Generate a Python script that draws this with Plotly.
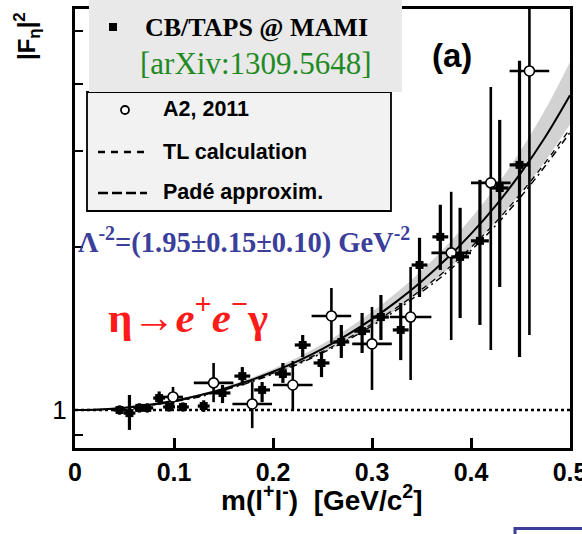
import math
import plotly.graph_objects as go

# ---------------- data ----------------
# CB/TAPS @ MAMI (filled squares)
cb_m = [0.045, 0.055, 0.065, 0.073, 0.085, 0.095, 0.109, 0.130, 0.149, 0.169, 0.189, 0.210,
        0.230, 0.249, 0.269, 0.290, 0.309, 0.329, 0.348, 0.369, 0.389, 0.409, 0.429, 0.449]
cb_v = [1.000, 0.987, 1.009, 1.009, 1.052, 1.013, 1.013, 1.017, 1.075, 1.155, 1.089, 1.165,
        1.318, 1.221, 1.335, 1.398, 1.484, 1.405, 1.851, 2.086, 1.916, 2.051, 2.567, 2.832]
cb_up = [0.020, 0.079, 0.020, 0.020, 0.030, 0.020, 0.020, 0.025, 0.037, 0.045, 0.037, 0.056,
         0.057, 0.058, 0.100, 0.112, 0.146, 0.170, 0.227, 0.305, 0.444, 0.606, 0.861, 1.573]
cb_dn = [0.020, 0.068, 0.020, 0.020, 0.030, 0.020, 0.020, 0.025, 0.045, 0.045, 0.055, 0.043,
         0.066, 0.071, 0.088, 0.124, 0.138, 0.169, 0.235, 0.274, 0.438, 0.616, 0.881, 1.580]
cb_dm = [0.006, 0.006, 0.006, 0.006, 0.006, 0.006, 0.006, 0.006, 0.008, 0.008, 0.008, 0.008,
         0.008, 0.008, 0.008, 0.008, 0.008, 0.008, 0.008, 0.008, 0.009, 0.009, 0.009, 0.010]

# A2, 2011 (open circles)
a2_m = [0.099, 0.140, 0.179, 0.220, 0.259, 0.300, 0.339, 0.380, 0.420, 0.459]
a2_v = [1.057, 1.122, 1.026, 1.112, 1.491, 1.324, 1.484, 1.949, 2.624, 4.220]
a2_up = [0.046, 0.099, 0.100, 0.119, 0.188, 0.225, 0.352, 0.577, 1.319, 2.500]
a2_dn = [0.048, 0.088, 0.100, 0.116, 0.162, 0.235, 0.348, 0.603, 1.334, 2.845]
a2_dm = [0.010, 0.020, 0.020, 0.020, 0.020, 0.020, 0.021, 0.020, 0.020, 0.020]

# curves
curve_m = [0.000, 0.025, 0.050, 0.075, 0.100, 0.125, 0.150, 0.175, 0.200, 0.225, 0.250,
           0.275, 0.300, 0.325, 0.350, 0.375, 0.400, 0.425, 0.450, 0.475, 0.500]
fit_v = [1.0000, 1.0025, 1.0098, 1.0223, 1.0402, 1.0638, 1.0939, 1.1311, 1.1764, 1.2311, 1.2968,
         1.3759, 1.4710, 1.5861, 1.7262, 1.8984, 2.1126, 2.3831, 2.7310, 3.1885, 3.8073]
band_hi = [1.0000, 1.0026, 1.0105, 1.0239, 1.0431, 1.0687, 1.1011, 1.1414, 1.1908, 1.2507, 1.3231,
           1.4107, 1.5170, 1.6469, 1.8067, 2.0057, 2.2572, 2.5807, 3.0060, 3.5810, 4.3858]
band_lo = [1.0000, 1.0023, 1.0092, 1.0208, 1.0374, 1.0594, 1.0872, 1.1215, 1.1632, 1.2133, 1.2732,
           1.3447, 1.4302, 1.5326, 1.6562, 1.8063, 1.9905, 2.2193, 2.5080, 2.8790, 3.3667]
tl_v = [1.000, 1.002, 1.009, 1.020, 1.036, 1.057, 1.088, 1.122, 1.165, 1.214, 1.275,
        1.345, 1.430, 1.530, 1.650, 1.790, 1.970, 2.190, 2.470, 2.820, 3.250]
pade_v = [1.000, 1.002, 1.009, 1.020, 1.037, 1.059, 1.090, 1.125, 1.170, 1.220, 1.282,
          1.354, 1.442, 1.545, 1.668, 1.812, 1.995, 2.220, 2.505, 2.860, 3.300]
unity_m = [0.0, 0.5]
unity_v = [1.0, 1.0]

x_ticks = [0.0, 0.1, 0.2, 0.3, 0.4, 0.5]
x_ticktext = ["0", "0.1", "0.2", "0.3", "0.4", "0.5"]
y_ticks = [1]
y_ticktext = ["1"]
y_minor_ticks = [0.9, 2, 3, 4, 5]

# ---------------- layout helpers ----------------
W, H = 582, 534
PL, PR, PT, PB = 75, 570, 9, 448  # plot area in pixels


def px(x):
    return (x - PL) / (PR - PL)


def py(y):
    return (PB - y) / (PB - PT)


SERIF = "Liberation Serif, Times New Roman, serif"
SANS = "Liberation Sans, Arial, sans-serif"

fig = go.Figure()

# band
fig.add_trace(go.Scatter(x=curve_m, y=band_lo, mode="lines", line=dict(width=0, shape="spline"),
                         showlegend=False, hoverinfo="skip"))
fig.add_trace(go.Scatter(x=curve_m, y=band_hi, mode="lines", line=dict(width=0, shape="spline"),
                         fill="tonexty", fillcolor="#d2d2d2", showlegend=False, hoverinfo="skip"))
# dotted unity line
fig.add_trace(go.Scatter(x=unity_m, y=unity_v, mode="lines",
                         line=dict(color="black", width=2.5, dash="3px,3px"), showlegend=False))
# TL and Pade
fig.add_trace(go.Scatter(x=curve_m, y=tl_v, mode="lines",
                         line=dict(color="black", width=1.5, dash="7px,4px,2px,4px", shape="spline"),
                         showlegend=False))
fig.add_trace(go.Scatter(x=curve_m, y=pade_v, mode="lines",
                         line=dict(color="black", width=1.3, dash="6px,5px", shape="spline"),
                         showlegend=False))
# fit
fig.add_trace(go.Scatter(x=curve_m, y=fit_v, mode="lines",
                         line=dict(color="black", width=2, shape="spline"), showlegend=False))

# A2 2011
fig.add_trace(go.Scatter(
    x=a2_m, y=a2_v, mode="markers",
    marker=dict(symbol="circle", size=10, color="white", line=dict(color="black", width=1.6)),
    error_y=dict(type="data", array=a2_up, arrayminus=a2_dn, symmetric=False,
                 color="black", thickness=2.6, width=0),
    error_x=dict(type="data", array=a2_dm, color="black", thickness=2.6, width=0),
    showlegend=False))
# CB/TAPS
fig.add_trace(go.Scatter(
    x=cb_m, y=cb_v, mode="markers",
    marker=dict(symbol="square", size=8, color="black"),
    error_y=dict(type="data", array=cb_up, arrayminus=cb_dn, symmetric=False,
                 color="black", thickness=3.2, width=0),
    error_x=dict(type="data", array=cb_dm, color="black", thickness=3.2, width=0),
    showlegend=False))

shapes = []
annotations = []

# legend box (lower part)
shapes.append(dict(type="rect", xref="paper", yref="paper", x0=px(87), x1=px(391), y0=py(92), y1=py(211),
                   line=dict(color="black", width=1.8), fillcolor="#f2f2f2", layer="above"))
# grey overlay (top part)
shapes.append(dict(type="rect", xref="paper", yref="paper", x0=px(89), x1=px(402), y0=py(-2), y1=py(92),
                   line=dict(width=0), fillcolor="#e9e9e9", layer="above"))
# legend symbols
shapes.append(dict(type="rect", xref="paper", yref="paper", x0=px(109), x1=px(117), y0=py(31), y1=py(23),
                   line=dict(width=0), fillcolor="black", layer="above"))
shapes.append(dict(type="circle", xref="paper", yref="paper", x0=px(121), x1=px(129), y0=py(114), y1=py(106),
                   line=dict(color="black", width=1.8), fillcolor="white", layer="above"))
shapes.append(dict(type="line", xref="paper", yref="paper", x0=px(98), x1=px(147), y0=py(152), y1=py(152),
                   line=dict(color="black", width=2.5, dash="7px,6px"), layer="above"))
shapes.append(dict(type="line", xref="paper", yref="paper", x0=px(98), x1=px(147), y0=py(193), y1=py(193),
                   line=dict(color="black", width=2.5, dash="10px,4px"), layer="above"))
# blue box fragment at bottom right
shapes.append(dict(type="rect", xref="paper", yref="paper", x0=px(515), x1=px(600), y0=py(528.5), y1=py(560),
                   line=dict(color="#3b3f99", width=3), fillcolor="rgba(0,0,0,0)", layer="above"))


def ann(text, x, y, size, family, color="black", xanchor="left", yanchor="middle", angle=0):
    annotations.append(dict(text=text, x=px(x), y=py(y), xref="paper", yref="paper",
                            xanchor=xanchor, yanchor=yanchor, showarrow=False, textangle=angle,
                            font=dict(size=size, family=family, color=color)))


ann("<b>CB/TAPS @ MAMI</b>", 143, 28, 26, SERIF)
ann("[arXiv:1309.5648]", 138, 64, 31, SERIF, color="#1f8a1f")
ann("<b>A2, 2011</b>", 161, 109, 21.5, SANS)
ann("<b>TL calculation</b>", 161, 152, 21.5, SANS)
ann("<b>Padé approxim.</b>", 161, 192, 21.5, SANS)
ann("<b>(a)</b>", 452, 55, 33, SANS, xanchor="center")
ann("<b>Λ<sup>-2</sup>=(1.95±0.15±0.10) GeV<sup>-2</sup></b>", 76, 240, 28.5, SERIF, color="#3b3f9b")
ann("<b>η→<i>e</i><sup>+</sup><i>e</i><sup>−</sup>γ</b>", 106, 314, 43, SERIF, color="#ff1a1a")
ann("<b>|F<sub>η</sub>|<sup>2</sup></b>", 27, 36, 24, SANS, xanchor="center", angle=-90)
ann("<b>m(l<sup>+</sup>l<sup>-</sup>)\u00a0\u00a0[GeV/c<sup>2</sup>]</b>", 322, 498, 28, SANS, xanchor="center")

fig.update_layout(
    width=W, height=H,
    margin=dict(l=PL, r=W - PR, t=PT, b=H - PB, autoexpand=False),
    paper_bgcolor="white", plot_bgcolor="white",
    shapes=shapes, annotations=annotations,
    showlegend=False,
    xaxis=dict(range=[0, 0.5], tickvals=x_ticks, ticktext=x_ticktext, ticks="inside", ticklen=10,
               tickwidth=2.5, tickcolor="black", showline=True, linewidth=3, linecolor="black",
               mirror=True, showgrid=False, zeroline=False, ticklabeloverflow="allow",
               automargin=False,
               tickfont=dict(size=25, family=SANS, color="black", weight="bold")),
    yaxis=dict(type="log", range=[math.log10(0.851), math.log10(5.49)], tickvals=y_ticks,
               ticktext=y_ticktext, ticks="inside", ticklen=8, tickwidth=2, tickcolor="black",
               showline=True, linewidth=3, linecolor="black", mirror=True, showgrid=False,
               zeroline=False, automargin=False, tickfont=dict(size=26, family=SANS, color="black"),
               minor=dict(tickvals=y_minor_ticks, ticks="inside", ticklen=8, tickwidth=2,
                          tickcolor="black", showgrid=False)),
)

fig.write_html("out.html")
